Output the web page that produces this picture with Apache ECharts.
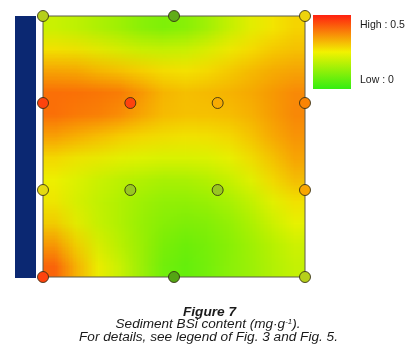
<!DOCTYPE html>
<html><head><meta charset="utf-8">
<script src="https://cdn.jsdelivr.net/npm/echarts@6/dist/echarts.min.js"></script>
<style>
html,body{margin:0;padding:0;background:#fff;}
#wrap{position:relative;width:419px;height:357px;overflow:hidden;background:#fff;}
#field{position:absolute;left:43px;top:16px;width:12px;height:12px;transform-origin:0 0;}
#main{position:absolute;left:0;top:0;width:419px;height:357px;}
</style></head>
<body><div id="wrap"><div id="field"></div><div id="main"></div></div>
<script>
// ---- data ----
// sampling stations (grid units: column u 0..3 left->right, row v 0..3 top->bottom)
var pointU   = [0,    1.5,  3,    0,    1,    2,    3,    0,    1,    2,    3,    0,    1.5,  3];
var pointV   = [0,    0,    0,    1,    1,    1,    1,    2,    2,    2,    2,    3,    3,    3];
var pointBSi = [0.18, 0.06, 0.27, 0.48, 0.48, 0.36, 0.41, 0.24, 0.14, 0.14, 0.37, 0.48, 0.04, 0.18];

// shaded BSi surface, read on a 12 x 12 raster (rows top -> bottom)
var fieldCols = ['c1','c2','c3','c4','c5','c6','c7','c8','c9','c10','c11','c12'];
var fieldRows = ['r1','r2','r3','r4','r5','r6','r7','r8','r9','r10','r11','r12'];
var fieldRow1  = [0.18, 0.16, 0.14, 0.12, 0.09, 0.07, 0.08, 0.11, 0.16, 0.21, 0.25, 0.28];
var fieldRow2  = [0.25, 0.24, 0.22, 0.20, 0.17, 0.16, 0.16, 0.19, 0.23, 0.26, 0.28, 0.30];
var fieldRow3  = [0.32, 0.31, 0.29, 0.27, 0.26, 0.25, 0.25, 0.26, 0.28, 0.30, 0.32, 0.33];
var fieldRow4  = [0.40, 0.40, 0.39, 0.39, 0.36, 0.32, 0.30, 0.31, 0.32, 0.33, 0.35, 0.37];
var fieldRow5  = [0.42, 0.41, 0.41, 0.40, 0.37, 0.33, 0.32, 0.32, 0.32, 0.33, 0.35, 0.38];
var fieldRow6  = [0.37, 0.36, 0.34, 0.32, 0.30, 0.29, 0.28, 0.28, 0.29, 0.31, 0.34, 0.37];
var fieldRow7  = [0.30, 0.28, 0.27, 0.26, 0.25, 0.24, 0.24, 0.24, 0.25, 0.28, 0.31, 0.35];
var fieldRow8  = [0.25, 0.23, 0.21, 0.19, 0.18, 0.17, 0.17, 0.18, 0.20, 0.24, 0.28, 0.33];
var fieldRow9  = [0.26, 0.21, 0.19, 0.17, 0.15, 0.13, 0.13, 0.14, 0.16, 0.19, 0.24, 0.28];
var fieldRow10 = [0.29, 0.23, 0.19, 0.17, 0.14, 0.12, 0.11, 0.11, 0.13, 0.16, 0.20, 0.25];
var fieldRow11 = [0.35, 0.27, 0.21, 0.17, 0.14, 0.10, 0.08, 0.09, 0.11, 0.14, 0.17, 0.21];
var fieldRow12 = [0.44, 0.35, 0.26, 0.21, 0.15, 0.09, 0.06, 0.08, 0.11, 0.13, 0.16, 0.19];
var fieldValues = [fieldRow1, fieldRow2, fieldRow3, fieldRow4, fieldRow5, fieldRow6,
                   fieldRow7, fieldRow8, fieldRow9, fieldRow10, fieldRow11, fieldRow12];

var scaleMin = 0, scaleMax = 0.5;
var legendHigh = 'High : 0.5';
var legendLow = 'Low : 0';
var captionTitle = 'Figure 7';
var captionLine2 = 'Sediment BSi content (mg\u00B7g{sup|-1}).';
var captionLine3 = 'For details, see legend of Fig. 3 and Fig. 5.';

// ---- styles ----
var FONT = '"Liberation Sans", Arial, Helvetica, sans-serif';
var fieldColors = ['#33ee11', '#f2f200', '#ff2010'];
var markerColors = ['#3a960c', '#8cc424', '#ecdc10', '#f8a400', '#ff3010'];
var PLOT = {left: 43, top: 16, width: 262, height: 261};

// ---- shaded surface (12x12 raster, smoothly scaled up to the plot frame) ----
var fieldDom = document.getElementById('field');
fieldDom.style.transform = 'scale(' + (PLOT.width / fieldCols.length) + ',' + (PLOT.height / fieldRows.length) + ')';
var fieldData = [];
for (var r = 0; r < fieldRows.length; r++) {
  for (var c = 0; c < fieldCols.length; c++) {
    fieldData.push([c, r, fieldValues[r][c]]);
  }
}
var fieldChart = echarts.init(fieldDom, null, {renderer: 'canvas', devicePixelRatio: 1});
fieldChart.setOption({
  animation: false,
  grid: {left: 0, right: 0, top: 0, bottom: 0},
  xAxis: {type: 'category', data: fieldCols, show: false},
  yAxis: {type: 'category', data: fieldRows, inverse: true, show: false},
  visualMap: {show: false, min: scaleMin, max: scaleMax, dimension: 2, inRange: {color: fieldColors}},
  series: [{type: 'heatmap', data: fieldData, itemStyle: {borderWidth: 0}, emphasis: {disabled: true}, progressive: 0}]
});

// ---- stations, frame, legend and captions ----
var pts = pointU.map(function (u, i) { return [u, pointV[i], pointBSi[i]]; });
var main = echarts.init(document.getElementById('main'), null, {renderer: 'canvas', devicePixelRatio: 1});
main.setOption({
  animation: false,
  backgroundColor: 'transparent',
  grid: {left: PLOT.left, top: PLOT.top, width: PLOT.width, height: PLOT.height,
         show: true, borderColor: '#5a5a4a', borderWidth: 1, backgroundColor: 'transparent'},
  xAxis: {type: 'value', min: 0, max: 3, show: false},
  yAxis: {type: 'value', min: 0, max: 3, inverse: true, show: false},
  visualMap: {show: false, min: scaleMin, max: scaleMax, dimension: 2, seriesIndex: 0,
              inRange: {color: markerColors}},
  series: [{
    type: 'scatter', data: pts, symbol: 'circle', symbolSize: 11, clip: false,
    itemStyle: {borderColor: 'rgba(50,45,20,0.85)', borderWidth: 1, opacity: 1},
    emphasis: {disabled: true}, z: 5
  }],
  graphic: [
    {type: 'rect', shape: {x: 15, y: 16, width: 21, height: 262}, style: {fill: '#0b2872'}, silent: true},
    {type: 'rect', shape: {x: 313, y: 15, width: 38, height: 74}, silent: true,
     style: {fill: new echarts.graphic.LinearGradient(0, 0, 0, 1, [
       {offset: 0, color: fieldColors[2]}, {offset: 0.5, color: fieldColors[1]}, {offset: 1, color: fieldColors[0]}])}},
    {type: 'text', x: 360, y: 25, silent: true,
     style: {text: legendHigh, fontFamily: FONT, fontSize: 10.5, fill: '#1a1a1a', align: 'left', verticalAlign: 'middle'}},
    {type: 'text', x: 360, y: 80, silent: true,
     style: {text: legendLow, fontFamily: FONT, fontSize: 10.5, fill: '#1a1a1a', align: 'left', verticalAlign: 'middle'}},
    {type: 'text', x: 209.5, y: 312.5, scaleX: 1.14, silent: true,
     style: {text: captionTitle, fontFamily: FONT, fontSize: 12, fontWeight: 'bold', fontStyle: 'italic',
             fill: '#1a1a1a', align: 'center', verticalAlign: 'middle'}},
    {type: 'text', x: 208, y: 325, scaleX: 1.13, silent: true,
     style: {text: captionLine2, fontFamily: FONT, fontSize: 12, fontStyle: 'italic',
             fill: '#1a1a1a', align: 'center', verticalAlign: 'middle',
             rich: {sup: {fontFamily: FONT, fontSize: 7, fontStyle: 'italic', fill: '#1a1a1a', verticalAlign: 'top', lineHeight: 12}}}},
    {type: 'text', x: 208.5, y: 337.5, scaleX: 1.135, silent: true,
     style: {text: captionLine3, fontFamily: FONT, fontSize: 12, fontStyle: 'italic',
             fill: '#1a1a1a', align: 'center', verticalAlign: 'middle'}}
  ]
});
</script></body></html>
